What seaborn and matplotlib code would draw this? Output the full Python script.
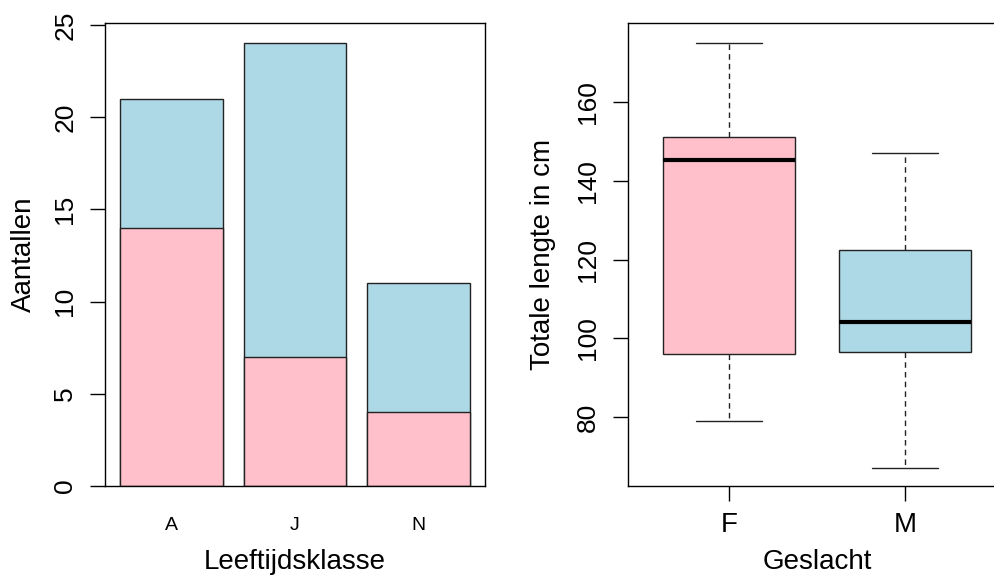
import numpy as np
import pandas as pd
import seaborn as sns
import matplotlib.pyplot as plt

# left panel: counts per age class, split by sex
klassen = ['A', 'J', 'N']
totaal = [21, 24, 11]
vrouw = [14, 7, 4]

# right panel: five-number summaries per sex (min, Q1, median, Q3, max)
lengte_f = [79, 96.1, 145.2, 151, 175]
lengte_m = [67, 96.5, 104.2, 122.4, 147]

roze = '#FFC0CB'
blauw = '#ADD8E6'

sns.set_style('ticks')
plt.rcParams['font.family'] = ['Liberation Sans', 'DejaVu Sans']
plt.rcParams.update({'text.color': 'black', 'axes.labelcolor': 'black',
                     'xtick.color': 'black', 'ytick.color': 'black',
                     'axes.edgecolor': 'black'})

fig = plt.figure(figsize=(9.95, 5.81), dpi=100)
W, H = 995, 581
ax1 = fig.add_axes([105 / W, (H - 486) / H, 380 / W, 463 / H])
ax2 = fig.add_axes([628 / W, (H - 486) / H, 378 / W, 463 / H])

# stacked bars
sns.barplot(x=klassen, y=totaal, color=blauw, saturation=1, width=0.834,
            edgecolor='#222222', linewidth=1, ax=ax1)
sns.barplot(x=klassen, y=vrouw, color=roze, saturation=1, width=0.834,
            edgecolor='#222222', linewidth=1, ax=ax1)
ax1.set_xlim(-0.54, 2.54)
ax1.set_ylim(0, 25.1)
ax1.set_yticks([0, 5, 10, 15, 20, 25])
ax1.tick_params(axis='x', length=0, labelsize=14, pad=22)
ax1.set_xlabel('Leeftijdsklasse', fontsize=20)
ax1.set_ylabel('Aantallen', fontsize=20)
ax1.xaxis.set_label_coords(0.5, -0.135)
ax1.yaxis.set_label_coords(-0.178, 0.5)

# boxplot
df = pd.DataFrame({
    'Geslacht': ['F'] * len(lengte_f) + ['M'] * len(lengte_m),
    'lengte': lengte_f + lengte_m,
})
sns.boxplot(data=df, x='Geslacht', y='lengte', hue='Geslacht',
            palette={'F': roze, 'M': blauw}, saturation=1, width=0.75,
            linecolor='#222222', linewidth=1, legend=False, ax=ax2,
            whiskerprops=dict(linestyle=(0, (4, 3))),
            medianprops=dict(linewidth=3, color='black'))
ax2.set_xlim(-0.574, 1.574)
ax2.set_ylim(62.5, 180.05)
ax2.set_yticks([80, 100, 120, 140, 160])
ax2.tick_params(axis='x', labelsize=20, pad=8)
ax2.set_xlabel('Geslacht', fontsize=20)
ax2.set_ylabel('Totale lengte in cm', fontsize=20)
ax2.xaxis.set_label_coords(0.5, -0.135)
ax2.yaxis.set_label_coords(-0.19, 0.5)

for ax in (ax1, ax2):
    for side in ax.spines.values():
        side.set_visible(True)
        side.set_linewidth(1)
        side.set_color('black')
    ax.tick_params(axis='y', labelsize=19, length=11, width=1, pad=9)
    ax.tick_params(axis='x', width=1)
    for lab in ax.get_yticklabels():
        lab.set_rotation(90)
        lab.set_va('center')

ax2.tick_params(axis='x', length=11)

fig.savefig('out.png', dpi=100)
